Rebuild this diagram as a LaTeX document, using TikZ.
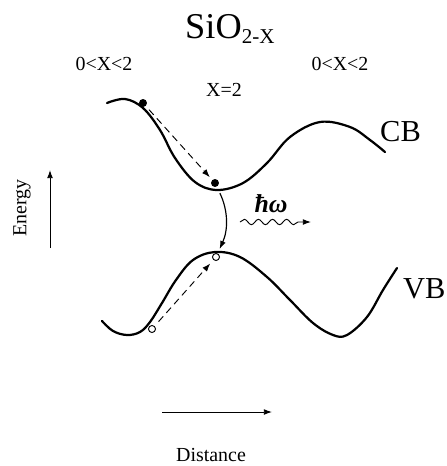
\documentclass[tikz,border=0pt]{standalone}
\usepackage{fontspec}
\setmainfont{Liberation Serif}
\usetikzlibrary{arrows.meta, positioning, decorations.pathmorphing}

\begin{document}
\begin{tikzpicture}[
    x=0.03cm, y=-0.03cm,
    every node/.style={align=center, inner sep=0pt},
    band/.style={line width=1.9pt, line cap=round},
    electron/.style={circle, fill=black, minimum size=6.8pt, inner sep=0pt},
    hole/.style={circle, draw=black, fill=white, line width=0.8pt, minimum size=6pt, inner sep=0pt},
    smalltext/.style={font={\fontsize{17}{17}\selectfont}},
    bandtext/.style={font={\fontsize{26}{26}\selectfont}, anchor=west},
    photontext/.style={font={\fontsize{22}{22}\selectfont\bfseries\itshape}},
    arrow/.style={-{Latex[length=7pt, width=5pt]}, line width=0.8pt},
    dasharrow/.style={arrow, dash pattern=on 6pt off 4pt}
]
\useasboundingbox (0,0) rectangle (447,466);

% Title and composition labels
\node[anchor=base west] (title) at (185,38) {\fontsize{31}{31}\selectfont SiO\fontsize{18}{18}\selectfont\raisebox{-4.3pt}{2-X}};
\node[smalltext] (xleft) at (104,64) {0<X<2};
\node[smalltext] (xright) at (340,64) {0<X<2};
\node[smalltext] (xmid) at (224,90) {X=2};

% Conduction band
\draw[band] plot[smooth, tension=0.6] coordinates {(107,103) (125,99) (143,108) (160,130) (175,158) (195,182) (217,190) (243,183) (267,163) (290,137) (320,122) (350,127) (370,140) (385,152)};
\node[bandtext] (cb) at (380,132) {CB};

% Valence band
\draw[band] plot[smooth, tension=0.6] coordinates {(102,321) (113,331) (127,335) (140,332) (150,322) (162,303) (176,280) (193,260) (215,252) (240,257) (267,277) (290,300) (313,323) (333,335) (347,335) (367,317) (383,290) (397,268)};
\node[bandtext] (vb) at (403,289) {VB};

% Carriers
\node[electron] (e1) at (143,103) {};
\node[electron] (e2) at (215,183) {};
\node[hole] (h1) at (152,329) {};
\node[hole] (h2) at (216,257) {};

\draw[dasharrow, shorten <=4pt, shorten >=3pt] (e1) -- (e2);
\draw[dasharrow, shorten <=5pt, shorten >=4pt] (h1) -- (h2);
\draw[arrow, line width=1pt, shorten <=6pt, shorten >=4pt] (e2) to[bend left=25] (h2);

% Photon emission
\node[photontext] (photon) at (271,204) {ħω};
\coordinate (wstart) at (240,222);
\coordinate (wend) at (311,222);
\draw[arrow, decorate, decoration={snake, amplitude=2.3pt, segment length=12pt, post length=9pt}] (wstart) -- (wend);

% Axes
\coordinate (ebottom) at (50,248);
\coordinate (etop) at (50,170);
\draw[arrow] (ebottom) -- (etop);
\node[smalltext, rotate=90] (energy) at (22,208) {Energy};

\coordinate (dleft) at (162,412);
\coordinate (dright) at (272,412);
\draw[arrow] (dleft) -- (dright);
\node[smalltext] (distance) at (211,455) {Distance};

\end{tikzpicture}
\end{document}
